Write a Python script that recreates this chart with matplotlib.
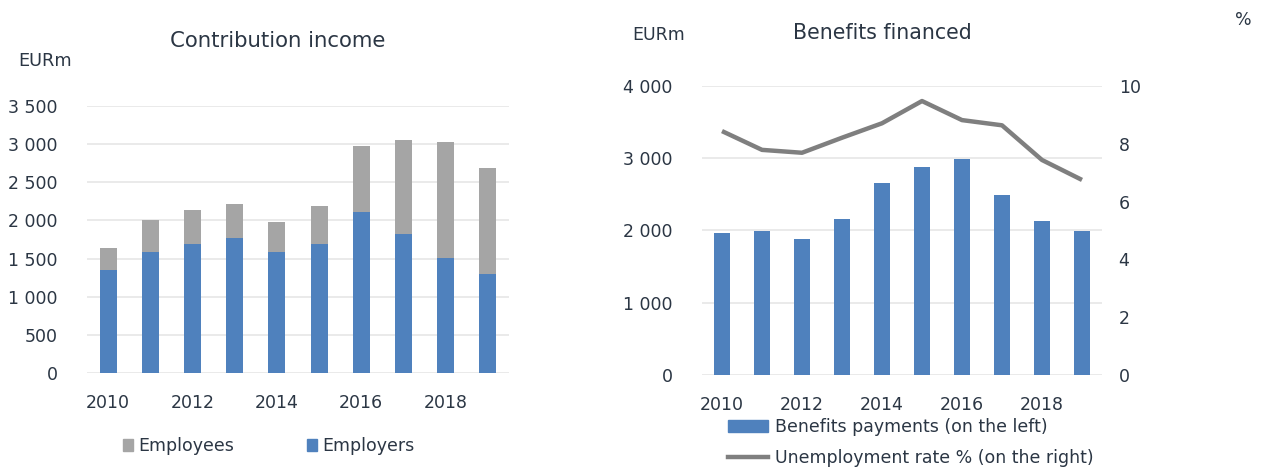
import numpy as np
import matplotlib.pyplot as plt
from matplotlib.patches import Patch
from matplotlib.lines import Line2D

#------------------------------------------------------------------------------
years = [2010, 2011, 2012, 2013, 2014, 2015, 2016, 2017, 2018, 2019]
tick_years = [2010, 2012, 2014, 2016, 2018]
employers = [1355, 1586, 1695, 1774, 1586, 1695, 2115, 1826, 1512, 1302]
employees = [283, 424, 446, 446, 394, 495, 866, 1233, 1521, 1390]
benefits = [1961, 1993, 1878, 2155, 2657, 2879, 2985, 2487, 2127, 1993]
unemployment = [8.44, 7.79, 7.69, 8.21, 8.71, 9.48, 8.82, 8.64, 7.44, 6.75]

blue = '#4F81BD'
grey = '#A5A5A5'
lgrey = '#7F7F7F'
txt = '#2B3644'
W, H = 1263, 470

def fmt(v):
    return '{:,}'.format(int(v)).replace(',', ' ')

plt.rcParams['font.family'] = 'DejaVu Sans'
fig = plt.figure(figsize=(W / 100, H / 100), dpi=100)
x = np.arange(len(years))

def style(ax, pad_y):
    for s in ax.spines.values():
        s.set_visible(False)
    ax.tick_params(length=0, labelsize=12.5, colors=txt)
    ax.tick_params(axis='y', pad=pad_y)
    ax.tick_params(axis='x', pad=15)
    ax.set_xticks([years.index(y) for y in tick_years])
    ax.set_xticklabels(tick_years)
    ax.set_xlim(-0.5, len(years) - 0.5)
    ax.grid(axis='y', color='#E6E6E6', lw=1.2)
    ax.set_axisbelow(True)

#------------------------------------------------------------------------------
ax = fig.add_axes([87 / W, (H - 373) / H, 422 / W, 267 / H])
ax.bar(x, employers, 0.4, color=blue, label='Employers')
ax.bar(x, employees, 0.4, bottom=employers, color=grey, label='Employees')
ax.set_ylim(0, 3500)
ax.set_yticks(np.arange(0, 3501, 500))
ax.set_yticklabels([fmt(v) for v in np.arange(0, 3501, 500)])
style(ax, 21)
fig.text(278 / W, 1 - 41 / H, 'Contribution income', ha='center', va='center', fontsize=15.3, color=txt)
fig.text(18 / W, 1 - 61 / H, 'EURm', ha='left', va='center', fontsize=12.8, color=txt)
h = [Patch(color=grey), Patch(color=blue)]
fig.legend(h, ['Employees', 'Employers'], loc='center left', bbox_to_anchor=(107 / W, 1 - 446 / H),
           ncol=2, frameon=False, fontsize=12.5, handlelength=0.6, handleheight=0.7,
           handletextpad=0.3, columnspacing=4.2, labelcolor=txt)

#------------------------------------------------------------------------------
ax = fig.add_axes([702 / W, (H - 375) / H, 400 / W, 289 / H])
ax.bar(x, benefits, 0.4, color=blue)
ax.set_ylim(0, 4000)
ax.set_yticks(np.arange(0, 4001, 1000))
ax.set_yticklabels([fmt(v) for v in np.arange(0, 4001, 1000)])
style(ax, 21)
ax2 = ax.twinx()
ax2.plot(x, unemployment, color=lgrey, lw=3.2, solid_capstyle='butt')
ax2.set_ylim(0, 10)
ax2.set_yticks(np.arange(0, 11, 2))
for s in ax2.spines.values():
    s.set_visible(False)
ax2.tick_params(length=0, labelsize=12.5, colors=txt, pad=12)
fig.text(882 / W, 1 - 33 / H, 'Benefits financed', ha='center', va='center', fontsize=14.8, color=txt)
fig.text(632 / W, 1 - 35 / H, 'EURm', ha='left', va='center', fontsize=12.5, color=txt)
fig.text(1243 / W, 1 - 20 / H, '%', ha='center', va='center', fontsize=12.5, color=txt)
h = [Patch(color=blue), Line2D([], [], color=lgrey, lw=3.2)]
fig.legend(h, ['Benefits payments (on the left)', 'Unemployment rate % (on the right)'],
           loc='upper left', bbox_to_anchor=(728 / W, 1 - 418 / H), frameon=False, fontsize=12.5,
           handlelength=2.3, handleheight=0.7, handletextpad=0.4, labelspacing=0.75, labelcolor=txt,
           borderaxespad=0, borderpad=0)

fig.savefig('out.png', dpi=100)
